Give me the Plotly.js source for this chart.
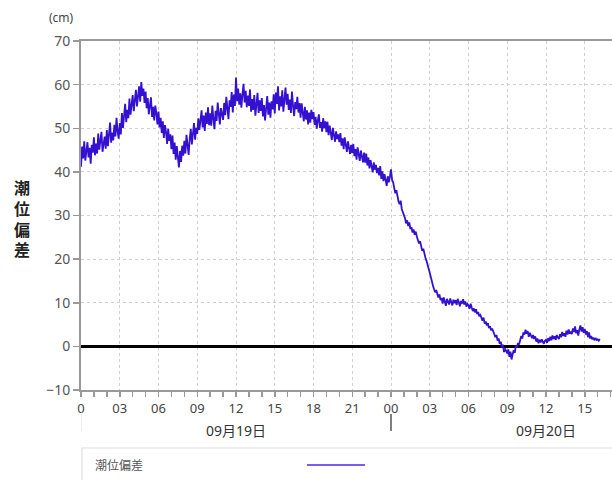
<!DOCTYPE html>
<html>
<head>
<meta charset="utf-8">
<script src="https://cdn.plot.ly/plotly-3.0.1.min.js"></script>
<style>html,body{margin:0;padding:0;background:#fff;}#chart{width:612px;height:480px;}</style>
</head>
<body>
<div id="chart"></div>
<script>
// Storm surge (潮位偏差, cm), 5-minute samples from 09/19 00:00 (12 per hour)
var surge = [
  41.2, 45.8, 43.1, 47.0, 42.6, 44.9, 46.8, 43.3, 45.5, 41.9, 46.2, 44.4,
  47.9, 43.8, 46.5, 44.2, 48.8, 45.1, 47.3, 49.2, 44.6, 46.9, 48.1, 45.3,
  49.6, 45.9, 48.4, 51.3, 46.7, 49.0, 47.2, 50.8, 48.1, 52.4, 49.3, 47.6,
  51.2, 48.6, 53.5, 50.1, 52.8, 55.6, 51.4, 54.2, 52.3, 56.8, 53.1, 55.4,
  57.6, 53.9, 56.2, 58.8, 55.0, 57.3, 59.6, 56.1, 60.6, 57.4, 59.1, 55.8,
  58.4, 54.6, 56.9, 53.2, 55.8, 57.1, 52.6, 54.9, 51.8, 55.2, 53.5, 50.9,
  53.8, 50.2, 52.4, 48.9, 51.6, 47.8, 50.7, 49.2, 46.4, 49.9, 47.1, 48.6,
  45.2, 48.3, 44.1, 46.7, 42.8, 45.9, 43.4, 41.0, 44.8, 42.3, 46.0, 43.7,
  47.1, 44.2, 48.5, 45.8, 43.9, 47.6, 49.8, 46.3, 48.9, 51.2, 47.4, 50.1,
  48.7, 52.3, 49.6, 51.8, 54.1, 50.2, 52.9, 49.4, 53.6, 51.0, 54.8, 50.7,
  53.4, 50.6, 55.2, 52.1, 49.8, 54.0, 51.7, 55.9, 52.8, 50.9, 54.6, 53.2,
  51.9, 55.8, 53.0, 57.2, 54.3, 52.1, 56.4, 54.9, 58.3, 53.6, 57.7, 55.1,
  61.6, 56.2, 59.1, 55.4, 58.0, 54.7, 57.8, 60.2, 55.9, 58.6, 54.8, 57.5,
  55.1, 58.9, 53.8, 56.7, 54.2, 57.6, 52.9, 55.8, 58.1, 53.5, 56.4, 54.0,
  56.9, 52.7, 55.3, 51.8, 54.6, 57.4, 53.1, 55.9, 52.4, 56.2, 54.3, 57.8,
  53.4, 58.2, 55.6, 59.6, 54.1, 57.3, 55.0, 58.7, 53.8, 56.8, 59.3, 55.4,
  57.9, 54.2, 56.6, 53.5, 58.4, 55.1, 52.8, 56.0, 54.4, 57.2, 53.6, 55.8,
  52.4, 55.7, 53.2, 51.6, 54.9, 52.0, 54.1, 50.9, 53.6, 51.3, 54.2, 52.1,
  53.7, 50.8, 52.6, 49.9, 51.8, 53.2, 50.1, 51.4, 49.2, 52.3, 50.0, 51.6,
  49.1, 51.5, 48.4, 50.6, 49.0, 47.3, 50.1, 48.2, 46.9, 49.3, 47.5, 48.6,
  46.8, 48.9, 46.0, 47.7, 45.2, 47.9, 46.3, 44.6, 47.0, 45.5, 44.1, 46.2,
  44.3, 46.4, 43.6, 45.2, 42.8, 45.6, 44.0, 42.5, 44.9, 43.1, 42.2, 44.4,
  42.1, 44.2, 41.5, 43.3, 40.8, 42.7, 41.4, 39.9, 42.2, 40.5, 41.6, 39.7,
  40.9, 39.2, 41.3, 38.4, 40.1, 37.9, 39.5, 38.1, 36.8, 39.0, 37.6, 38.9,
  40.6, 38.2, 37.6, 36.3, 35.1, 35.8, 33.9, 33.2, 32.6, 33.4, 31.5, 30.9,
  30.1, 29.4, 28.2, 28.9, 27.6, 28.4, 26.9, 27.3, 26.1, 26.8, 25.6, 26.3,
  25.2, 24.3, 23.6, 24.1, 22.8, 21.9, 22.4, 21.1, 20.3, 19.6, 18.9, 17.8,
  16.9, 15.6, 14.8, 13.9, 13.1, 12.4, 12.9, 11.8, 11.2, 11.9, 10.6, 11.1,
  9.8, 11.2, 10.1, 9.3, 10.9, 10.4, 9.6, 11.0, 10.2, 9.4, 10.7, 9.9,
  10.6, 9.5, 10.9, 10.1, 9.2, 10.4, 9.8, 10.8, 9.6, 10.3, 9.1, 9.7,
  9.4, 8.6, 9.8, 8.9, 8.1, 8.7, 7.8, 8.5, 7.4, 7.9, 6.9, 7.2,
  6.4, 5.9, 6.6, 5.2, 5.7, 4.8, 5.3, 4.2, 4.6, 3.7, 4.1, 3.4,
  2.9, 2.1, 2.6, 1.3, 1.8, 0.6, 1.1, -0.2, 0.4, -1.3, -0.5, -0.9,
  -1.6, -0.7, -2.4, -1.2, -3.0, -1.8, -0.9, -1.5, 0.2, -0.3, 0.8, 0.4,
  1.3, 2.4, 1.8, 3.2, 2.7, 3.8, 2.9, 3.5, 2.2, 3.1, 2.5, 1.9,
  2.6, 1.7, 2.3, 1.1, 1.8, 0.7, 1.5, 0.9, 1.6, 1.0, 0.6, 1.3,
  1.5, 0.8, 1.9, 1.2, 2.2, 1.4, 2.5, 1.7, 2.3, 1.5, 2.6, 2.0,
  1.7, 2.8, 2.1, 3.3, 2.4, 3.0, 2.2, 3.6, 2.7, 3.9, 2.9, 3.4,
  2.8, 4.1, 3.3, 4.6, 3.0, 3.7, 2.5, 3.9, 4.8, 3.4, 4.4, 3.1,
  4.0, 2.7, 3.5, 2.1, 3.2, 1.8, 2.4, 1.6, 2.0, 1.4, 1.9, 1.5,
  1.6, 1.3, 1.7
];
var stepHours = 1 / 12;
var hours = surge.map(function (v, i) { return i * stepHours; });

var tickHours = [0, 3, 6, 9, 12, 15, 18, 21, 24, 27, 30, 33, 36, 39];
var tickLabels = ["0", "03", "06", "09", "12", "15", "18", "21", "00", "03", "06", "09", "12", "15"];
var dateLabels = ["09月19日", "09月20日"];
var dateCenters = [12, 36];
var seriesName = "潮位偏差";

var FONT = "Noto Sans, Noto Sans CJK JP, sans-serif";
var plotH = 349, plotW = 531;
function py(pix) { return (390 - pix) / plotH; }
function px(pix) { return (pix - 81) / plotW; }

var trace = {
  x: hours, y: surge, type: "scatter", mode: "lines", name: seriesName,
  line: { color: "#3410d0", width: 1.8 }, hoverinfo: "skip", showlegend: false
};

var annotations = [
  { text: "(cm)", xref: "paper", yref: "paper", x: px(61), y: py(18), showarrow: false,
    font: { size: 12, color: "#444", family: FONT }, xanchor: "center", yanchor: "middle" },
  { text: "<b>潮<br>位<br>偏<br>差</b>", xref: "paper", yref: "paper", x: px(22), y: py(219), showarrow: false,
    font: { size: 16, color: "#222", family: FONT }, xanchor: "center", yanchor: "middle", align: "center" },
  { text: seriesName, xref: "paper", yref: "paper", x: px(93), y: py(465), showarrow: false,
    font: { size: 12, color: "#555", family: FONT }, xanchor: "left", yanchor: "middle" }
];
dateLabels.forEach(function (d, i) {
  annotations.push({ text: d, xref: "x", yref: "paper", x: dateCenters[i], y: py(430), showarrow: false,
    font: { size: 14, color: "#333", family: FONT }, xanchor: "center", yanchor: "middle" });
});

var shapes = [
  { type: "line", xref: "x", yref: "paper", x0: 24, x1: 24, y0: py(414), y1: py(431),
    line: { color: "#555", width: 1.5 } },
  { type: "line", xref: "x", yref: "paper", x0: 0, x1: 0, y0: py(412), y1: py(431),
    line: { color: "#ddd", width: 1 } },
  { type: "rect", xref: "paper", yref: "paper", x0: px(82), x1: px(640), y0: py(448), y1: py(500),
    line: { color: "#dedede", width: 1.2 }, fillcolor: "rgba(0,0,0,0)" },
  { type: "line", xref: "paper", yref: "paper", x0: px(307), x1: px(365), y0: py(465), y1: py(465),
    line: { color: "#7a5cf0", width: 2 } }
];

var layout = {
  width: 612, height: 480,
  margin: { l: 81, r: 0, t: 41, b: 90, pad: 0 },
  paper_bgcolor: "#fff", plot_bgcolor: "#fff",
  font: { family: FONT, size: 13, color: "#444" },
  xaxis: {
    range: [0, plotW / 38.75 * 3], tickmode: "array", tickvals: tickHours, ticktext: tickLabels,
    showline: true, linecolor: "#999", linewidth: 2, mirror: true,
    ticks: "outside", ticklen: 5, tickcolor: "#999", tickwidth: 1.5,
    showgrid: true, gridcolor: "#cfcfcf", griddash: "dot", gridwidth: 1,
    zeroline: false, tickfont: { size: 13, color: "#444" },
    minor: { tickmode: "linear", tick0: 0, dtick: 1, ticks: "outside", ticklen: 5, tickcolor: "#999", tickwidth: 1.5, showgrid: false }
  },
  yaxis: {
    range: [-10, 70], dtick: 10, tick0: 0,
    showline: true, linecolor: "#999", linewidth: 2,
    ticks: "outside", ticklen: 6, tickcolor: "#999", tickwidth: 1.5,
    showgrid: true, gridcolor: "#cfcfcf", griddash: "dot", gridwidth: 1,
    zeroline: true, zerolinecolor: "#000", zerolinewidth: 3,
    tickfont: { size: 14, color: "#555" }
  },
  annotations: annotations,
  shapes: shapes
};

Plotly.newPlot("chart", [trace], layout, { staticPlot: true, displayModeBar: false });
</script>
</body>
</html>
